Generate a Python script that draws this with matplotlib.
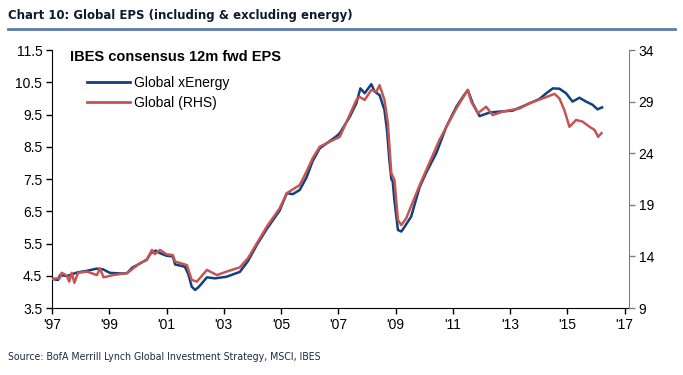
import matplotlib
matplotlib.use("Agg")
import matplotlib.pyplot as plt
from matplotlib.lines import Line2D

# =====================================================
# DATA
# =====================================================

# Global ex-energy 12m fwd EPS (left axis)
years_xenergy = [
    1997.00, 1997.21, 1997.28, 1997.52, 1997.87, 1998.26, 1998.55, 1998.78,
    1999.02, 1999.40, 1999.62, 1999.80, 2000.07, 2000.31, 2000.45, 2000.62,
    2000.77, 2001.00, 2001.22, 2001.30, 2001.64, 2001.76, 2001.88, 2002.00,
    2002.12, 2002.41, 2002.70, 2003.10, 2003.56, 2003.84, 2004.15, 2004.50,
    2004.95, 2005.20, 2005.41, 2005.65, 2005.89, 2006.10, 2006.35, 2006.94,
    2007.05, 2007.40, 2007.63, 2007.77, 2007.92, 2008.15, 2008.27, 2008.44,
    2008.61, 2008.70, 2008.78, 2008.85, 2008.90, 2008.95, 2009.08, 2009.20,
    2009.30, 2009.54, 2009.84, 2010.07, 2010.42, 2010.77, 2011.12, 2011.35,
    2011.52, 2011.69, 2011.93, 2012.28, 2012.63, 2013.09, 2013.56, 2014.02,
    2014.25, 2014.49, 2014.72, 2014.95, 2015.18, 2015.42, 2015.65, 2015.88,
    2016.05, 2016.21,
]
eps_xenergy = [
    4.40, 4.37, 4.52, 4.49, 4.60, 4.66, 4.72, 4.70,
    4.59, 4.57, 4.58, 4.75, 4.88, 5.00, 5.20, 5.28,
    5.20, 5.12, 5.10, 4.85, 4.78, 4.55, 4.16, 4.06,
    4.15, 4.45, 4.42, 4.47, 4.62, 4.95, 5.45, 5.95,
    6.52, 7.06, 7.03, 7.16, 7.55, 8.05, 8.45, 8.83,
    8.92, 9.43, 9.85, 10.31, 10.16, 10.44, 10.21, 10.10,
    9.64, 9.00, 8.10, 7.50, 7.42, 6.90, 5.92, 5.87,
    6.00, 6.33, 7.25, 7.70, 8.30, 9.12, 9.74, 10.05,
    10.26, 9.85, 9.45, 9.56, 9.59, 9.62, 9.80, 9.98,
    10.15, 10.31, 10.30, 10.16, 9.90, 10.02, 9.90, 9.80,
    9.66, 9.72,
]

# Global 12m fwd EPS (right axis)
years_global = [
    1997.00, 1997.28, 1997.34, 1997.52, 1997.60, 1997.69, 1997.78, 1997.91,
    1998.22, 1998.57, 1998.67, 1998.80, 1999.13, 1999.62, 2000.07, 2000.31,
    2000.49, 2000.59, 2000.77, 2001.00, 2001.22, 2001.30, 2001.71, 2001.88,
    2002.06, 2002.41, 2002.76, 2003.10, 2003.56, 2003.84, 2004.15, 2004.50,
    2004.95, 2005.20, 2005.65, 2005.89, 2006.10, 2006.35, 2006.94, 2007.05,
    2007.63, 2007.74, 2007.92, 2008.15, 2008.33, 2008.44, 2008.61, 2008.73,
    2008.80, 2008.85, 2008.96, 2009.08, 2009.20, 2009.37, 2009.84, 2010.53,
    2011.12, 2011.52, 2011.64, 2011.87, 2012.16, 2012.39, 2012.74, 2013.33,
    2013.67, 2014.14, 2014.55, 2014.72, 2014.89, 2015.07, 2015.30, 2015.53,
    2015.77, 2015.95, 2016.07, 2016.19,
]
eps_global = [
    11.81, 11.91, 12.41, 12.13, 11.56, 12.41, 11.44, 12.41,
    12.53, 12.19, 12.84, 11.97, 12.19, 12.38, 13.34, 13.66,
    14.63, 14.22, 14.63, 14.20, 14.13, 13.50, 13.16, 11.72,
    11.56, 12.69, 12.19, 12.53, 12.94, 13.81, 15.25, 16.88,
    18.66, 20.13, 20.91, 22.22, 23.50, 24.63, 25.44, 25.59,
    29.16, 29.47, 29.16, 30.13, 29.97, 30.59, 29.16, 26.91,
    24.00, 22.06, 21.41, 17.53, 17.03, 17.69, 20.91, 25.28,
    28.34, 30.13, 29.00, 27.88, 28.50, 27.69, 28.03, 28.34,
    28.84, 29.31, 29.75, 29.31, 28.19, 26.56, 27.22, 27.06,
    26.56, 26.25, 25.59, 25.94,
]

x_ticks = [1997, 1999, 2001, 2003, 2005, 2007, 2009, 2011, 2013, 2015, 2017]
x_labels = ["'97", "'99", "'01", "'03", "'05", "'07", "'09", "'11", "'13", "'15", "'17"]
left_ticks = [3.5, 4.5, 5.5, 6.5, 7.5, 8.5, 9.5, 10.5, 11.5]
right_ticks = [9, 14, 19, 24, 29, 34]

# =====================================================
# STYLE
# =====================================================

blue = "#123f80"
red = "#c55552"
plt.rcParams["font.family"] = ["Liberation Sans", "DejaVu Sans"]

fig = plt.figure(figsize=(6.83, 3.75), dpi=100)

# header and footer (condensed face)
fig.text(8 / 683, 1 - 16 / 375, "Chart 10: Global EPS (including & excluding energy)",
         family="DejaVu Sans", fontstretch="condensed", fontweight="bold",
         fontsize=9.4, color="#0d1a33", ha="left", va="center")
fig.add_artist(Line2D([8 / 683, 675 / 683], [1 - 29 / 375, 1 - 29 / 375],
                      color="#5b7bad", linewidth=2))
fig.text(8 / 683, 1 - 357 / 375,
         "Source: BofA Merrill Lynch Global Investment Strategy, MSCI, IBES",
         family="DejaVu Sans", fontstretch="condensed",
         fontsize=7.6, color="#1a2a4a", ha="left", va="center")

# =====================================================
# AXES
# =====================================================

ax = fig.add_axes([52 / 683, 1 - 308 / 375, 577 / 683, 258 / 375])
ax2 = ax.twinx()

ax.plot(years_xenergy, eps_xenergy, color=blue, linewidth=1.8, zorder=2)
ax2.plot(years_global, eps_global, color=red, linewidth=1.8, zorder=3)

ax.set_xlim(1997, 2017.15)
ax.set_ylim(3.5, 11.5)
ax2.set_ylim(9, 34)

ax.set_xticks(x_ticks)
ax.set_xticklabels(x_labels)
ax.set_yticks(left_ticks)
ax.set_yticklabels([f"{v:.1f}" for v in left_ticks])
ax2.set_yticks(right_ticks)

ax.tick_params(axis="both", labelsize=10, length=4, width=1, direction="out",
               colors="black", pad=3)
ax2.tick_params(axis="y", labelsize=10, length=4, width=1, direction="out",
                color="#808080", labelcolor="black", pad=3)

for a in (ax, ax2):
    a.spines["top"].set_visible(False)
ax.spines["right"].set_visible(False)
ax2.spines["left"].set_visible(False)
ax2.spines["bottom"].set_visible(False)
ax2.spines["right"].set_color("#808080")
ax.spines["left"].set_color("black")
ax.spines["bottom"].set_color("black")

# inner title and legend
ax.text(70 / 683, 1 - 57 / 375, "IBES consensus 12m fwd EPS",
        transform=fig.transFigure, fontsize=10.5, fontweight="bold",
        ha="left", va="center")

handles = [Line2D([], [], color=blue, linewidth=2),
           Line2D([], [], color=red, linewidth=2)]
fig.legend(handles, ["Global xEnergy", "Global (RHS)"],
           loc="upper left", bbox_to_anchor=(87 / 683, 1 - 76 / 375),
           frameon=False, fontsize=10, handlelength=3.1, handletextpad=0.3,
           labelspacing=0.45, borderaxespad=0, borderpad=0)

fig.savefig("out.png", dpi=100)
